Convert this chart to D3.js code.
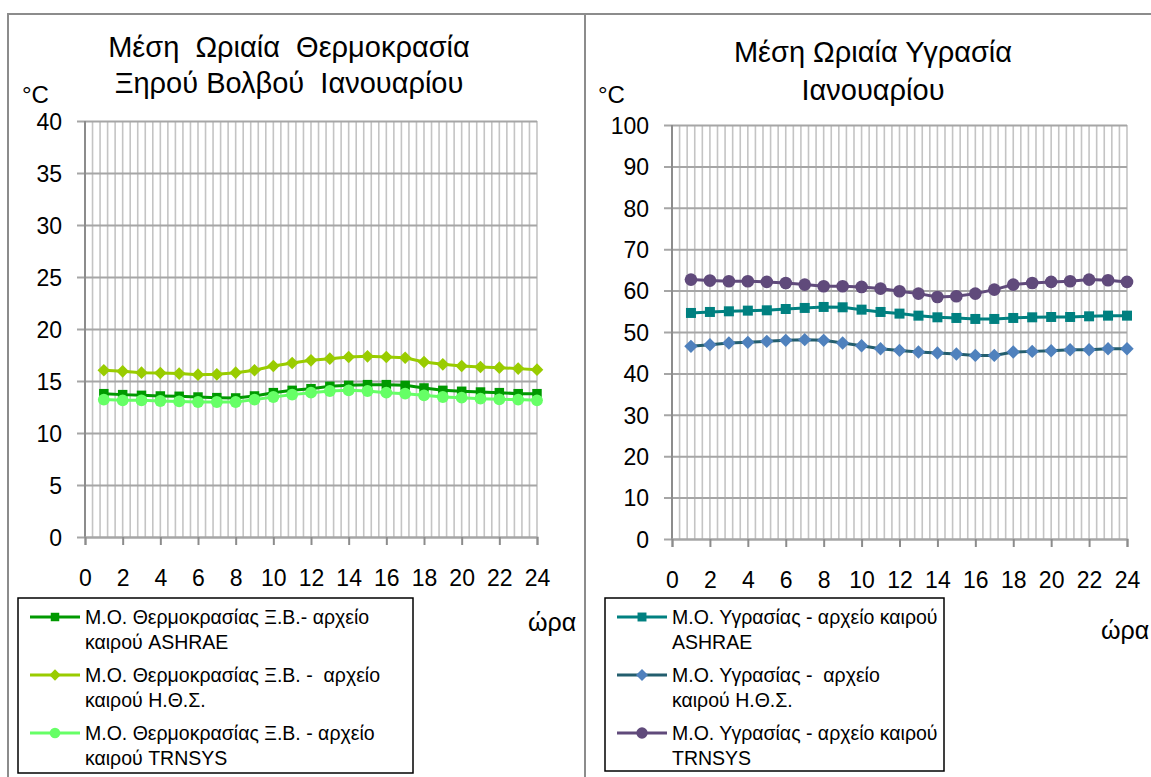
<!DOCTYPE html>
<html>
<head>
<meta charset="utf-8">
<script src="https://cdn.jsdelivr.net/npm/d3@7"></script>
<style>
  body { margin: 0; background: #fff; }
  svg { display: block; font-family: "Liberation Sans", Arial, sans-serif; }
</style>
</head>
<body>
<div id="chart"></div>
<script>
// hours of the day
const hours = [1, 2, 3, 4, 5, 6, 7, 8, 9, 10, 11, 12, 13, 14, 15, 16, 17, 18, 19, 20, 21, 22, 23, 24];
const xTicks = [0, 2, 4, 6, 8, 10, 12, 14, 16, 18, 20, 22, 24];

// dry bulb temperature, January (°C)
const tempAshrae = [13.78, 13.69, 13.62, 13.56, 13.53, 13.46, 13.40, 13.37, 13.56, 13.88, 14.10, 14.26,
                    14.49, 14.58, 14.65, 14.65, 14.58, 14.33, 14.10, 14.01, 13.94, 13.88, 13.78, 13.78];
const tempHts = [16.03, 15.93, 15.80, 15.77, 15.71, 15.61, 15.64, 15.80, 16.03, 16.44, 16.73, 16.99,
                 17.15, 17.31, 17.37, 17.31, 17.24, 16.83, 16.60, 16.44, 16.35, 16.28, 16.19, 16.09];
const tempTrnsys = [13.21, 13.14, 13.14, 13.08, 13.04, 12.98, 12.98, 12.98, 13.21, 13.46, 13.69, 13.88,
                    14.04, 14.10, 14.04, 13.88, 13.78, 13.62, 13.46, 13.40, 13.30, 13.24, 13.21, 13.14];
const tempTicks = [0, 5, 10, 15, 20, 25, 30, 35, 40];

// humidity, January
const humAshrae = [54.60, 54.84, 55.00, 55.16, 55.24, 55.56, 55.81, 56.05, 55.97, 55.40, 54.84, 54.44,
                   53.95, 53.55, 53.39, 53.15, 53.15, 53.39, 53.55, 53.63, 53.63, 53.79, 53.95, 53.95];
const humHts = [46.53, 46.94, 47.34, 47.50, 47.74, 47.98, 48.15, 47.98, 47.34, 46.69, 45.97, 45.56,
                45.16, 44.92, 44.68, 44.35, 44.35, 45.16, 45.32, 45.48, 45.73, 45.73, 45.97, 45.97];
const humTrnsys = [62.66, 62.42, 62.26, 62.26, 62.10, 61.85, 61.45, 61.05, 61.05, 60.89, 60.48, 59.84,
                   59.27, 58.47, 58.63, 59.27, 60.24, 61.45, 61.85, 62.10, 62.26, 62.66, 62.50, 62.10];
const humTicks = [0, 10, 20, 30, 40, 50, 60, 70, 80, 90, 100];

const tempTitle = ["Μέση  Ωριαία  Θερμοκρασία", "Ξηρού Βολβού  Ιανουαρίου"];
const humTitle = ["Μέση Ωριαία Υγρασία", "Ιανουαρίου"];
const tempLegend = [
    ["Μ.Ο. Θερμοκρασίας Ξ.Β.- αρχείο", "καιρού ASHRAE"],
    ["Μ.Ο. Θερμοκρασίας Ξ.Β. -  αρχείο", "καιρού Η.Θ.Σ."],
    ["Μ.Ο. Θερμοκρασίας Ξ.Β. - αρχείο", "καιρού TRNSYS"]
];
const humLegend = [
    ["Μ.Ο. Υγρασίας - αρχείο καιρού", "ASHRAE"],
    ["Μ.Ο. Υγρασίας -  αρχείο", "καιρού Η.Θ.Σ."],
    ["Μ.Ο. Υγρασίας - αρχείο καιρού", "TRNSYS"]
];

const svg = d3.select('#chart')
    .append('svg')
    .attr('width', 1151)
    .attr('height', 777);

// outer chart frames
svg.append('path')
    .attr('d', 'M8,800 V14 H1160 M585,14 V800')
    .attr('fill', 'none')
    .attr('stroke', '#8c8c8c')
    .attr('stroke-width', 2);

function drawChart(cfg) {
    const g = svg.append('g');
    const x = d3.scaleLinear().domain([0, 24]).range([cfg.left, cfg.right]);
    const y = d3.scaleLinear().domain([0, cfg.yMax]).range([cfg.bottom, cfg.top]);

    // minor vertical gridlines every 0.4 h
    const minor = d3.range(1, 61).map(i => i * 0.4);
    g.append('g')
        .selectAll('line')
        .data(minor)
        .join('line')
        .attr('x1', d => x(d))
        .attr('x2', d => x(d))
        .attr('y1', cfg.top)
        .attr('y2', cfg.bottom)
        .attr('stroke', '#c4c4c4')
        .attr('stroke-width', 1.6);

    // horizontal gridlines + y labels
    const yAxis = g.append('g')
        .attr('transform', `translate(${cfg.left},0)`)
        .call(d3.axisLeft(y).tickValues(cfg.yTicks).tickSize(-(cfg.right - cfg.left)).tickPadding(0));
    yAxis.select('.domain').remove();
    yAxis.selectAll('.tick line')
        .attr('x1', -8)
        .attr('stroke', '#a6a6a6')
        .attr('stroke-width', 2);
    yAxis.selectAll('.tick text')
        .attr('x', -23)
        .attr('dy', '0.36em')
        .attr('fill', '#000')
        .style('font-size', '23px')
        .style('font-family', '"Liberation Sans", Arial, sans-serif');

    // y axis line
    g.append('line')
        .attr('x1', cfg.left).attr('x2', cfg.left)
        .attr('y1', cfg.top).attr('y2', cfg.bottom + 1)
        .attr('stroke', '#8c8c8c')
        .attr('stroke-width', 2);

    // x axis
    const xAxis = g.append('g')
        .attr('transform', `translate(0,${cfg.bottom})`)
        .call(d3.axisBottom(x).tickValues(xTicks).tickSize(8).tickPadding(25));
    xAxis.select('.domain')
        .attr('stroke', '#a6a6a6')
        .attr('stroke-width', 2);
    xAxis.selectAll('.tick line')
        .attr('stroke', '#8c8c8c')
        .attr('stroke-width', 2);
    xAxis.selectAll('.tick text')
        .attr('fill', '#000')
        .style('font-size', '23px')
        .style('font-family', '"Liberation Sans", Arial, sans-serif');

    // series
    const line = d3.line().x((d, i) => x(hours[i])).y(d => y(d));
    cfg.series.forEach(s => {
        g.append('path')
            .datum(s.values)
            .attr('d', line)
            .attr('fill', 'none')
            .attr('stroke', s.line)
            .attr('stroke-width', 3);
        g.append('g')
            .selectAll('path')
            .data(s.values)
            .join('path')
            .attr('d', d3.symbol().type(s.symbol).size(s.size))
            .attr('transform', (d, i) => `translate(${x(hours[i])},${y(d)})${s.rotate ? ' rotate(45)' : ''}`)
            .attr('fill', s.marker);
    });

    // titles
    cfg.title.forEach((t, i) => {
        g.append('text')
            .attr('x', cfg.titleX)
            .attr('y', cfg.titleY + i * cfg.titleGap)
            .attr('text-anchor', 'middle')
            .style('font-size', '29px')
            .style('white-space', 'pre')
            .text(t);
    });

    g.append('text')
        .attr('x', cfg.unitX)
        .attr('y', 103)
        .style('font-size', '24px')
        .text('°C');

    g.append('text')
        .attr('x', cfg.horaX)
        .attr('y', cfg.horaY)
        .style('font-size', '25px')
        .text('ώρα');

    // legend
    const lg = g.append('g');
    lg.append('rect')
        .attr('x', cfg.legend.x)
        .attr('y', cfg.legend.y)
        .attr('width', cfg.legend.w)
        .attr('height', cfg.legend.h)
        .attr('fill', '#fff')
        .attr('stroke', '#000')
        .attr('stroke-width', 1.5);
    cfg.series.forEach((s, i) => {
        const cy = cfg.legend.y + 19 + i * 58;
        const x0 = cfg.legend.x + 12;
        lg.append('line')
            .attr('x1', x0).attr('x2', x0 + 50)
            .attr('y1', cy).attr('y2', cy)
            .attr('stroke', s.line)
            .attr('stroke-width', 3);
        lg.append('path')
            .attr('d', d3.symbol().type(s.symbol).size(s.size * 0.8))
            .attr('transform', `translate(${x0 + 25},${cy})${s.rotate ? ' rotate(45)' : ''}`)
            .attr('fill', s.marker);
        cfg.labels[i].forEach((t, j) => {
            lg.append('text')
                .attr('x', x0 + 55)
                .attr('y', cy + 7 + j * 25)
                .style('font-size', '19.5px')
                .style('white-space', 'pre')
                .text(t);
        });
    });
}

drawChart({
    left: 85, right: 537, top: 121, bottom: 537, yMax: 40, yTicks: tempTicks,
    title: tempTitle, titleX: 289, titleY: 57, titleGap: 36, unitX: 22, horaX: 528, horaY: 631,
    labels: tempLegend,
    legend: { x: 18, y: 598, w: 395, h: 175 },
    series: [
        { values: tempAshrae, line: '#009900', marker: '#009900', symbol: d3.symbolSquare, size: 90 },
        { values: tempHts, line: '#99cc00', marker: '#99cc00', symbol: d3.symbolSquare, size: 80, rotate: true },
        { values: tempTrnsys, line: '#66ff66', marker: '#66ff66', symbol: d3.symbolCircle, size: 110 }
    ]
});

drawChart({
    left: 672, right: 1127, top: 125, bottom: 539, yMax: 100, yTicks: humTicks,
    title: humTitle, titleX: 873, titleY: 62, titleGap: 38, unitX: 598, horaX: 1101, horaY: 639,
    labels: humLegend,
    legend: { x: 605, y: 598, w: 339, h: 173 },
    series: [
        { values: humAshrae, line: '#008080', marker: '#008080', symbol: d3.symbolSquare, size: 100 },
        { values: humHts, line: '#235e6e', marker: '#4f81bd', symbol: d3.symbolSquare, size: 90, rotate: true },
        { values: humTrnsys, line: '#604a7b', marker: '#604a7b', symbol: d3.symbolCircle, size: 125 }
    ]
});
</script>
</body>
</html>
